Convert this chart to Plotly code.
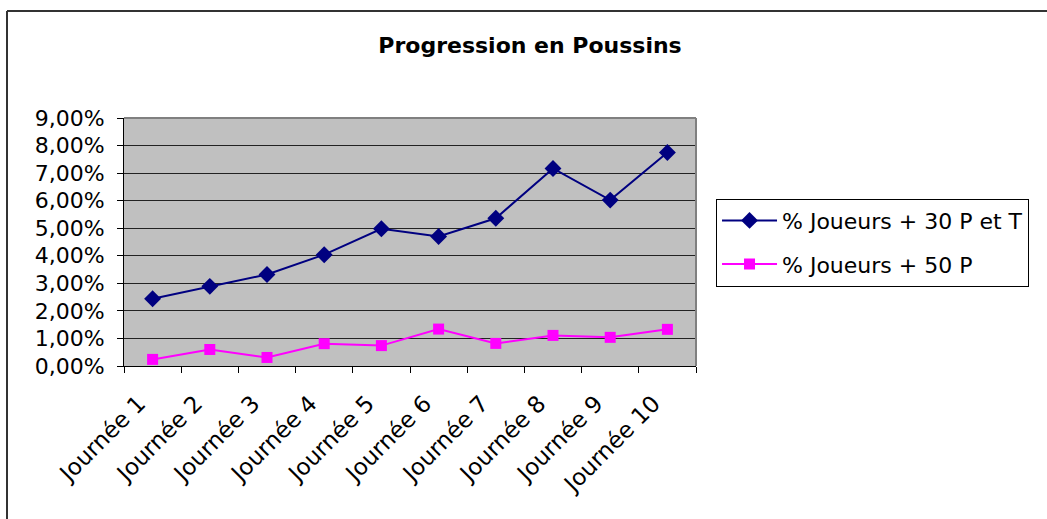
import plotly.graph_objects as go

categories = ["Journée 1", "Journée 2", "Journée 3", "Journée 4", "Journée 5",
              "Journée 6", "Journée 7", "Journée 8", "Journée 9", "Journée 10"]
joueurs_30 = [0.0244, 0.0289, 0.0332, 0.0404, 0.0498, 0.0470, 0.0536, 0.0717, 0.0602, 0.0775]
joueurs_50 = [0.0024, 0.0060, 0.0031, 0.0081, 0.0074, 0.0134, 0.0082, 0.0111, 0.0104, 0.0133]
y_ticks = [i / 100 for i in range(0, 10)]
y_tick_labels = [f"{i},00%" for i in range(0, 10)]

FONT = "DejaVu Sans"

fig = go.Figure()
fig.add_trace(go.Scatter(
    x=categories, y=joueurs_30, mode="lines+markers",
    name="% Joueurs + 30 P et T",
    line=dict(color="#000080", width=2),
    marker=dict(symbol="diamond", size=13, color="#000080"),
    legendgroup="a",
))
fig.add_trace(go.Scatter(
    x=categories, y=joueurs_50, mode="lines+markers",
    name="% Joueurs + 50 P",
    line=dict(color="#FF00FF", width=2),
    marker=dict(symbol="square", size=11, color="#FF00FF"),
    legendgroup="b",
))

fig.update_layout(
    width=1047, height=519,
    margin=dict(l=124, r=351, t=118, b=153),
    paper_bgcolor="white",
    plot_bgcolor="#C0C0C0",
    font=dict(family=FONT, size=22, color="black"),
    title=dict(text="<b>Progression en Poussins</b>", x=530 / 1047, xanchor="center",
               xref="container", y=1 - 45 / 519, yanchor="middle",
               font=dict(family=FONT, size=22, color="black")),
    showlegend=True,
    legend=dict(x=1.035, xanchor="left", y=0.675, yanchor="top",
                bordercolor="black", borderwidth=1, bgcolor="white",
                font=dict(family=FONT, size=22), tracegroupgap=12,
                traceorder="grouped", itemwidth=55),
    xaxis=dict(
        type="category", tickangle=-45, ticks="outside", ticklen=6,
        tickcolor="black", tickson="boundaries", showgrid=False,
        ticklabelstandoff=14, ticklabelshift=-14,
        showline=True, linecolor="black", linewidth=1,
        range=[-0.5, 9.5], tickfont=dict(family=FONT, size=23),
    ),
    yaxis=dict(
        range=[0, 0.09], tickvals=y_ticks, ticktext=y_tick_labels,
        ticks="outside", ticklen=6, tickcolor="black", ticklabelstandoff=8,
        showgrid=True, gridcolor="#222222", gridwidth=1,
        showline=True, linecolor="black", linewidth=1,
        zeroline=False, tickfont=dict(family=FONT, size=22),
    ),
    shapes=[
        dict(type="line", xref="paper", yref="paper", x0=0, x1=1, y0=1, y1=1,
             line=dict(color="#808080", width=2)),
        dict(type="line", xref="paper", yref="paper", x0=1, x1=1, y0=0, y1=1,
             line=dict(color="#808080", width=2)),
        dict(type="line", xref="paper", yref="paper",
             x0=(7 - 124) / 572, x1=(7 - 124) / 572,
             y0=(366 - 11) / 248, y1=(366 - 530) / 248,
             line=dict(color="#333333", width=2)),
        dict(type="line", xref="paper", yref="paper",
             x0=(7 - 124) / 572, x1=(1060 - 124) / 572,
             y0=(366 - 11) / 248, y1=(366 - 11) / 248,
             line=dict(color="#333333", width=2)),
    ],
)

fig.write_html("out.html", config={"displayModeBar": False},
               post_script="document.body.style.margin='0';")
